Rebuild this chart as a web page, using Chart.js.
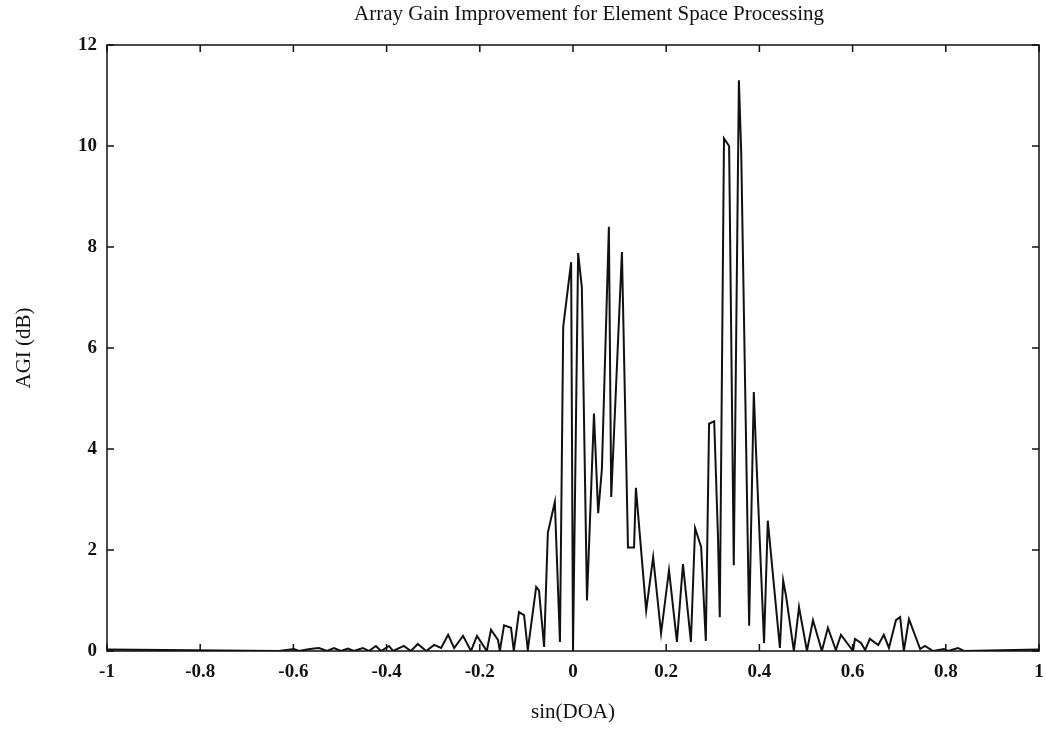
<!DOCTYPE html>
<html>
<head>
<meta charset="utf-8">
<script src="https://cdn.jsdelivr.net/npm/chart.js@4/dist/chart.umd.min.js"></script>
<style>
  html, body { margin: 0; padding: 0; background: #fff; }
  #wrap { width: 1046px; height: 740px; }
</style>
</head>
<body>
<div id="wrap"><canvas id="agi-chart"></canvas></div>
<script>
// sin(DOA) samples and AGI (dB)
const doaValues = [
  -1, -0.631, -0.599, -0.588, -0.571, -0.556, -0.545, -0.528, -0.513, -0.498,
  -0.483, -0.47, -0.451, -0.438, -0.423, -0.412, -0.395, -0.386, -0.363, -0.348,
  -0.333, -0.315, -0.298, -0.283, -0.268, -0.255, -0.236, -0.219, -0.206, -0.185,
  -0.176, -0.161, -0.157, -0.148, -0.133, -0.127, -0.116, -0.105, -0.097, -0.079,
  -0.073, -0.062, -0.054, -0.039, -0.028, -0.021, -0.004, 0.0, 0.011, 0.019,
  0.03, 0.045, 0.054, 0.062, 0.077, 0.082, 0.105, 0.118, 0.131, 0.135,
  0.157, 0.172, 0.189, 0.206, 0.223, 0.236, 0.253, 0.262, 0.275, 0.285,
  0.292, 0.303, 0.311, 0.315, 0.324, 0.335, 0.345, 0.356, 0.361, 0.378,
  0.388, 0.393, 0.41, 0.418, 0.444, 0.451, 0.457, 0.474, 0.485, 0.502,
  0.515, 0.534, 0.547, 0.564, 0.575, 0.601, 0.605, 0.618, 0.627, 0.637,
  0.655, 0.667, 0.678, 0.693, 0.702, 0.71, 0.721, 0.745, 0.755, 0.773,
  0.796, 0.805, 0.826, 0.839, 1
];
const agiValues = [
  0.03, 0.0, 0.04, 0.0, 0.03, 0.05, 0.06, 0.0, 0.06, 0.0,
  0.05, 0.0, 0.06, 0.0, 0.1, 0.0, 0.1, 0.0, 0.1, 0.0,
  0.14, 0.0, 0.12, 0.06, 0.32, 0.06, 0.3, 0.0, 0.3, 0.0,
  0.42, 0.22, 0.0, 0.51, 0.46, 0.0, 0.77, 0.71, 0.02, 1.27,
  1.2, 0.08, 2.34, 2.95, 0.18, 6.42, 7.7, 0.0, 7.88, 7.2,
  1.0, 4.7, 2.73, 3.6, 8.4, 3.05, 7.9, 2.05, 2.05, 3.23,
  0.8, 1.86, 0.35, 1.6, 0.18, 1.72, 0.18, 2.43, 2.06, 0.2,
  4.5, 4.55, 2.3, 0.67, 10.15, 10.0, 1.7, 11.3, 9.86, 0.5,
  5.13, 3.9, 0.16, 2.58, 0.06, 1.4, 1.1, 0.0, 0.87, 0.0,
  0.61, 0.0, 0.46, 0.02, 0.32, 0.0, 0.24, 0.16, 0.02, 0.24,
  0.12, 0.32, 0.06, 0.61, 0.67, 0.0, 0.63, 0.04, 0.1, 0.0,
  0.04, 0.0, 0.06, 0.0, 0.03
];
const xTickValues = [-1, -0.8, -0.6, -0.4, -0.2, 0, 0.2, 0.4, 0.6, 0.8, 1];
const xTickLabels = ['-1', '-0.8', '-0.6', '-0.4', '-0.2', '0', '0.2', '0.4', '0.6', '0.8', '1'];
const yTickValues = [0, 2, 4, 6, 8, 10, 12];
const yTickLabels = ['0', '2', '4', '6', '8', '10', '12'];
const chartTitle = 'Array Gain Improvement for Element Space Processing';

const serif = "'Liberation Serif', 'DejaVu Serif', serif";

// frame with inward ticks on all four sides, plus the title above it
const boxTicks = {
  id: 'boxTicks',
  afterDatasetsDraw(chart) {
    const { ctx, chartArea: a, scales: { x, y } } = chart;
    ctx.save();
    ctx.strokeStyle = '#111';
    ctx.lineWidth = 1.5;
    ctx.strokeRect(a.left, a.top, a.right - a.left, a.bottom - a.top);
    ctx.beginPath();
    x.ticks.forEach(t => {
      const px = x.getPixelForValue(t.value);
      ctx.moveTo(px, a.bottom); ctx.lineTo(px, a.bottom - 7);
      ctx.moveTo(px, a.top); ctx.lineTo(px, a.top + 7);
    });
    y.ticks.forEach(t => {
      const py = y.getPixelForValue(t.value);
      ctx.moveTo(a.left, py); ctx.lineTo(a.left + 7, py);
      ctx.moveTo(a.right, py); ctx.lineTo(a.right - 7, py);
    });
    ctx.stroke();

    ctx.fillStyle = '#111';
    ctx.font = '21px ' + serif;
    ctx.textAlign = 'center';
    ctx.textBaseline = 'middle';
    ctx.fillText(chartTitle, (a.left + a.right) / 2 + 16, 14);
    ctx.restore();
  }
};

new Chart(document.getElementById('agi-chart').getContext('2d'), {
  type: 'scatter',
  data: {
    datasets: [{
      data: doaValues.map((v, i) => ({ x: v, y: agiValues[i] })),
      showLine: true,
      borderColor: '#111',
      borderWidth: 2,
      pointRadius: 0,
      tension: 0
    }]
  },
  options: {
    responsive: true,
    maintainAspectRatio: false,
    animation: false,
    layout: { padding: { left: 0, right: 7, top: 45, bottom: 0 } },
    plugins: {
      legend: { display: false },
      tooltip: { enabled: false },
      title: { display: false }
    },
    scales: {
      x: {
        type: 'linear',
        min: -1, max: 1,
        afterBuildTicks: s => { s.ticks = xTickValues.map(v => ({ value: v })); },
        afterFit: s => { s.height = 89; s.paddingLeft = 0; s.paddingRight = 0; },
        grid: { display: false, drawTicks: false },
        border: { display: false },
        ticks: {
          color: '#111',
          padding: 10,
          maxRotation: 0,
          font: { family: serif, size: 19, weight: 'bold' },
          callback: (v, i) => xTickLabels[i]
        },
        title: {
          display: true,
          text: 'sin(DOA)',
          color: '#111',
          font: { family: serif, size: 21 },
          padding: { top: 0, bottom: 15 }
        }
      },
      y: {
        type: 'linear',
        min: 0, max: 12,
        afterBuildTicks: s => { s.ticks = yTickValues.map(v => ({ value: v })); },
        afterFit: s => { s.width = 107; s.paddingTop = 0; s.paddingBottom = 0; },
        grid: { display: false, drawTicks: false },
        border: { display: false },
        ticks: {
          color: '#111',
          padding: 10,
          font: { family: serif, size: 19, weight: 'bold' },
          callback: (v, i) => yTickLabels[i]
        },
        title: {
          display: true,
          text: 'AGI (dB)',
          color: '#111',
          font: { family: serif, size: 21 },
          padding: { top: 12, bottom: 0 }
        }
      }
    }
  },
  plugins: [boxTicks]
});
</script>
</body>
</html>
